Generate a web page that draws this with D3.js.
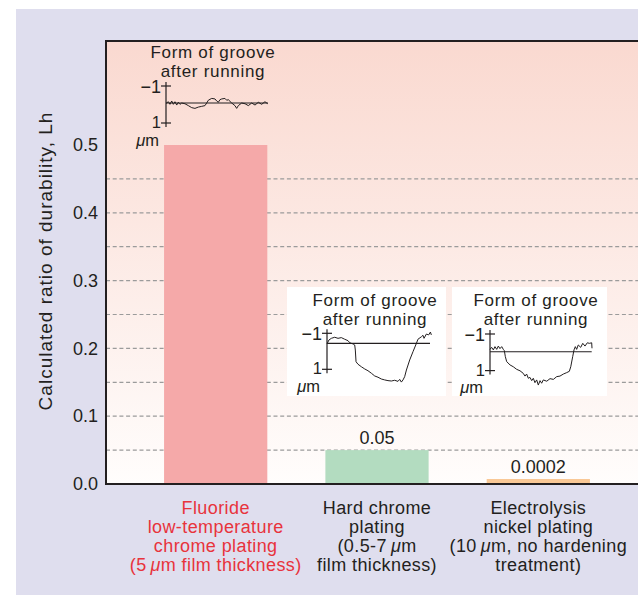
<!DOCTYPE html>
<html>
<head>
<meta charset="utf-8">
<script src="https://cdn.jsdelivr.net/npm/d3@7/dist/d3.min.js"></script>
<style>
  body { margin: 0; background: #fff; }
  text { font-family: "Liberation Sans", Arial, Helvetica, sans-serif; fill: #231f20; }
</style>
</head>
<body>
<div id="chart"></div>
<script>
// bar chart data
var categories = ["Fluoride", "Hard chrome", "Electrolysis"];
var categoryLines = [
  ["Fluoride", "low-temperature", "chrome plating", "(5\u2009\u03bcm film thickness)"],
  ["Hard chrome", "plating", "(0.5-7\u2009\u03bcm", "film thickness)"],
  ["Electrolysis", "nickel plating", "(10\u2009\u03bcm, no hardening", "treatment)"]
];
var values = [0.5, 0.05, 0.0002];
var valueLabels = ["", "0.05", "0.0002"];
var barColors = ["#f5a9a9", "#b3dcc0", "#f9c896"];
var labelColors = ["#e8333c", "#231f20", "#231f20"];
var yTicks = [0, 0.1, 0.2, 0.3, 0.4, 0.5];
var gridValues = [0.05, 0.1, 0.15, 0.2, 0.25, 0.3, 0.35, 0.4, 0.45];
var insetTitle = ["Form of groove", "after running"];

// groove profiles: [position along trace (0-100), depth in um]
var profileFluoride = [[0,-0.06],[2.3,-0.15],[3.9,-0.01],[5.6,-0.19],[7.2,-0.01],[8.8,-0.15],[10.5,0.03],[12.1,-0.12],[13.7,-0.01],[15.4,-0.08],[18.6,-0.04],[21.9,0.06],[25.2,0.17],[28.4,0.21],[31.7,0.14],[35,0.1],[38.2,0.06],[39.9,-0.08],[41.5,-0.23],[44.8,-0.33],[48,-0.3],[49.7,-0.19],[51.3,-0.12],[52.9,-0.26],[54.6,-0.3],[57.8,-0.33],[59.5,-0.23],[61.1,-0.26],[64.4,-0.08],[67.6,0.06],[69.3,0.21],[70.9,0.06],[74.2,-0.08],[77.5,-0.04],[80.7,0.06],[84,-0.08],[87.3,0.03],[90.5,-0.12],[93.8,-0.01],[97,-0.15],[99.7,-0.04]];
var profileHardChrome = [[0,-0.41],[1.9,-0.63],[4.2,-0.72],[7.5,-0.78],[10.7,-0.72],[13.9,-0.76],[17.2,-0.67],[20.4,-0.59],[22,-0.48],[23.7,-0.44],[25.3,-0.41],[26.9,-0.35],[27.5,-0.07],[28.2,0.58],[30.1,0.72],[33.4,0.86],[36.6,0.98],[39.8,1.08],[43.1,1.22],[46.3,1.37],[49.5,1.44],[52.8,1.54],[56,1.59],[59.2,1.63],[62.5,1.65],[65.7,1.61],[68.9,1.67],[70.6,1.56],[72.2,1.71],[73.8,1.59],[75.4,1.41],[77.1,1.04],[80.3,0.48],[83.5,0.02],[86.8,-0.44],[88.3,-0.67],[91.7,-0.81],[93.2,-0.89],[94.2,-0.72],[96.5,-0.96],[98.7,-0.91],[100.4,-1.07],[101.3,-0.91]];
var profileNickel = [[0,-0.16],[1.6,-0.27],[3.3,-0.13],[4.9,-0.31],[6.6,-0.16],[8.2,-0.34],[9.8,-0.2],[11.5,-0.31],[13.1,-0.16],[14.1,-0.09],[15.1,0.24],[16.4,0.51],[19.7,0.69],[22.9,0.79],[26.2,0.93],[29.5,1.01],[32.7,1.15],[34.4,1.3],[36,1.19],[37.7,1.42],[39.3,1.37],[41,1.55],[42.6,1.42],[44.2,1.66],[45.9,1.51],[47.5,1.79],[49.2,1.55],[50.8,1.69],[52.4,1.51],[55.8,1.58],[59,1.44],[62.3,1.48],[65.6,1.33],[68.8,1.3],[72.1,1.19],[75.4,1.11],[78,1.04],[79.4,0.79],[81.3,0.24],[82.6,-0.13],[83.9,-0.31],[85.2,-0.16],[86.8,-0.4],[89.2,-0.27],[91.2,-0.49],[93.4,-0.34],[95.7,-0.52],[97.7,-0.49],[100,-0.52],[100.3,-0.22]];
var profileBaselines = [-0.08, -0.44, -0.03];

var svgWidth = 638;
var svgHeight = 595;
var plot = { left: 106, top: 41, bottom: 484, right: 640 };

var svg = d3.select("#chart")
  .append("svg")
  .attr("width", svgWidth)
  .attr("height", svgHeight);

var defs = svg.append("defs");
var grad = defs.append("linearGradient")
  .attr("id", "plotBg")
  .attr("x1", 0).attr("y1", 0).attr("x2", 0).attr("y2", 1);
grad.append("stop").attr("offset", "0%").attr("stop-color", "#fad9d0");
grad.append("stop").attr("offset", "100%").attr("stop-color", "#fffdfc");

// lavender panel
svg.append("rect")
  .attr("x", 16).attr("y", 9)
  .attr("width", svgWidth - 16).attr("height", svgHeight - 9)
  .attr("fill", "#dfdeee");

// plot background
svg.append("rect")
  .attr("x", plot.left).attr("y", plot.top)
  .attr("width", plot.right - plot.left).attr("height", plot.bottom - plot.top)
  .attr("fill", "url(#plotBg)");

var x = d3.scaleBand()
  .domain(categories)
  .range([plot.left, 648])
  .paddingInner(0.36)
  .paddingOuter(0.36);

var y = d3.scaleLinear()
  .domain([0, 0.5])
  .range([plot.bottom, 145]);

// dashed gridlines
svg.append("g").selectAll("line")
  .data(gridValues)
  .enter()
  .append("line")
  .attr("x1", plot.left).attr("x2", plot.right)
  .attr("y1", d => y(d)).attr("y2", d => y(d))
  .attr("stroke", "#9b9b9b")
  .attr("stroke-width", 1.2)
  .attr("stroke-dasharray", "4,2.7");

// bars (the tiny last value gets a minimum visible height)
svg.append("g").selectAll("rect")
  .data(values)
  .enter()
  .append("rect")
  .attr("x", (d, i) => x(categories[i]))
  .attr("width", x.bandwidth())
  .attr("y", d => Math.min(y(d), plot.bottom - 5))
  .attr("height", d => Math.max(plot.bottom - y(d), 5))
  .attr("fill", (d, i) => barColors[i]);

// value labels
svg.append("g").selectAll("text")
  .data(values)
  .enter()
  .append("text")
  .attr("x", (d, i) => x(categories[i]) + x.bandwidth() / 2)
  .attr("y", d => Math.min(y(d), plot.bottom - 5) - 6)
  .attr("text-anchor", "middle")
  .style("font-size", "18px")
  .text((d, i) => valueLabels[i]);

// axes frame
svg.append("path")
  .attr("d", `M${plot.right},${plot.top}H${plot.left}V${plot.bottom}H${plot.right}`)
  .attr("fill", "none")
  .attr("stroke", "#231f20")
  .attr("stroke-width", 2);

// y axis tick labels
var leftAxis = d3.axisLeft(y)
  .tickValues(yTicks)
  .tickFormat(d3.format(".1f"))
  .tickSize(0)
  .tickPadding(8);
var yAxisG = svg.append("g")
  .attr("transform", `translate(${plot.left}, 0)`)
  .call(leftAxis);
yAxisG.select(".domain").remove();
yAxisG.selectAll("text")
  .style("font-size", "18px")
  .style("font-family", "Liberation Sans, Arial, sans-serif")
  .attr("fill", "#231f20");

// y axis title
svg.append("text")
  .attr("transform", "translate(52, 261) rotate(-90)")
  .attr("text-anchor", "middle")
  .style("font-size", "19px")
  .style("letter-spacing", "1px")
  .text("Calculated ratio of durability, Lh");

// write a line, with the mu in italics
function addLine(sel, str) {
  var parts = str.split("\u03bc");
  parts.forEach(function(p, k) {
    if (k > 0) sel.append("tspan").style("font-style", "italic").text("\u03bc");
    sel.append("tspan").text(p);
  });
}

// category labels
categoryLines.forEach(function(lines, i) {
  lines.forEach(function(line, j) {
    var t = svg.append("text")
      .attr("x", x(categories[i]) + x.bandwidth() / 2)
      .attr("y", 513.5 + j * 19.3)
      .attr("text-anchor", "middle")
      .style("font-size", "18px")
      .style("letter-spacing", "0.4px")
      .style("fill", labelColors[i]);
    addLine(t, line);
  });
});

// groove insets
var insets = [
  { profile: profileFluoride, axisX: 166, top: 86, bottom: 123, end: 268, titleX: 213, titleY: 58, box: null },
  { profile: profileHardChrome, axisX: 327, top: 333.3, bottom: 369.3, end: 430, titleX: 375, titleY: 305.5, box: [287, 287, 159, 109] },
  { profile: profileNickel, axisX: 490, top: 334, bottom: 370.6, end: 591.7, titleX: 536, titleY: 305.5, box: [452, 287, 155, 109] }
];

insets.forEach(function(ins, i) {
  var g = svg.append("g");
  if (ins.box) {
    g.append("rect")
      .attr("x", ins.box[0]).attr("y", ins.box[1])
      .attr("width", ins.box[2]).attr("height", ins.box[3])
      .attr("fill", "#fff");
  }
  var px = d3.scaleLinear().domain([0, 100]).range([ins.axisX, ins.end]);
  var py = d3.scaleLinear().domain([-1, 1]).range([ins.top, ins.bottom]);

  insetTitle.forEach(function(s, j) {
    g.append("text")
      .attr("x", ins.titleX)
      .attr("y", ins.titleY + j * 19)
      .attr("text-anchor", "middle")
      .style("font-size", "17px")
      .style("letter-spacing", "0.7px")
      .text(s);
  });

  // little depth axis
  g.append("line")
    .attr("x1", ins.axisX).attr("x2", ins.axisX)
    .attr("y1", py(-1) - 4).attr("y2", py(1) + 4)
    .attr("stroke", "#231f20").attr("stroke-width", 1.2);
  [-1, 1].forEach(function(v) {
    g.append("line")
      .attr("x1", ins.axisX - 5).attr("x2", ins.axisX + 5)
      .attr("y1", py(v)).attr("y2", py(v))
      .attr("stroke", "#231f20").attr("stroke-width", 1.2);
  });
  g.append("text")
    .attr("x", ins.axisX - 5)
    .attr("y", py(-1) + 6.5)
    .attr("text-anchor", "end")
    .style("font-size", "18px")
    .text("\u22121");
  g.append("text")
    .attr("x", ins.axisX - 5)
    .attr("y", py(1) + 5)
    .attr("text-anchor", "end")
    .style("font-size", "16.5px")
    .text("1");
  var mu = g.append("text")
    .attr("x", ins.axisX - 7)
    .attr("y", py(1) + 22.5)
    .attr("text-anchor", "end")
    .style("font-size", "16.5px");
  addLine(mu, "\u03bcm");

  // reference line
  g.append("line")
    .attr("x1", px(0)).attr("x2", px(100))
    .attr("y1", py(profileBaselines[i])).attr("y2", py(profileBaselines[i]))
    .attr("stroke", "#231f20").attr("stroke-width", 1.2);

  // profile trace
  var line = d3.line()
    .x(d => px(d[0]))
    .y(d => py(d[1]));
  g.append("path")
    .datum(ins.profile)
    .attr("d", line)
    .attr("fill", "none")
    .attr("stroke", "#231f20")
    .attr("stroke-width", 1);
});
</script>
</body>
</html>
